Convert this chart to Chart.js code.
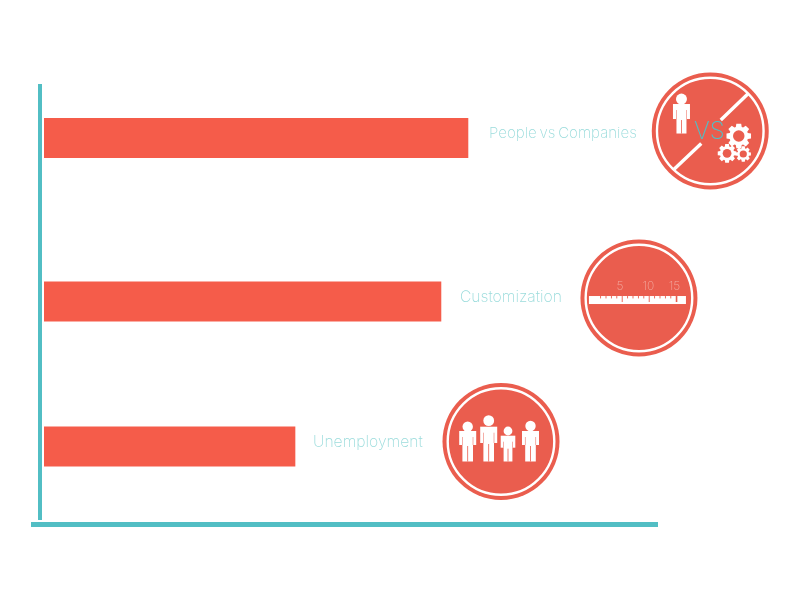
<!DOCTYPE html>
<html><head><meta charset="utf-8">
<style>html,body{margin:0;padding:0;background:#fff}canvas{display:block}</style>
<script src="https://cdn.jsdelivr.net/npm/chart.js@4/dist/chart.umd.js"></script>
</head><body><canvas id="c" width="800" height="600"></canvas>
<script>
const categories = ['People vs Companies', 'Customization', 'Unemployment'];
const scores = [69.05, 64.65, 40.88];
const rulerLabels = ['5', '10', '15'];
const versusLabel = 'VS';

const BAR = '#f55c4a', DISC = '#ea5d4e', AXIS = '#52bec4', LABEL = '#9bdcdc';
const FONT = 'Inter';

class SpacedCategory extends Chart.CategoryScale {
  static id = 'spacedCategory';
  static defaults = Chart.CategoryScale.defaults;
  getPixelForValue(v) {
    const i = typeof v === 'number' ? v : this.parse(v);
    return this.getPixelForDecimal(this.options.stops[i]);
  }
}
Chart.register(SpacedCategory);

function disc(ctx, x, y) {
  ctx.fillStyle = DISC;
  ctx.beginPath(); ctx.arc(x, y, 58.5, 0, 7); ctx.fill();
  ctx.strokeStyle = '#fff'; ctx.lineWidth = 2.4;
  ctx.beginPath(); ctx.arc(x, y, 53.3, 0, 7); ctx.stroke();
}
function person(ctx, cx, headY, headR, shoulder, armBottom, feet, halfW, legHalf) {
  ctx.fillStyle = '#fff';
  ctx.beginPath(); ctx.arc(cx, headY, headR, 0, 7); ctx.fill();
  const hip = armBottom - 1;
  ctx.fillRect(cx - halfW, shoulder, 2 * halfW, armBottom - shoulder);
  ctx.fillRect(cx - legHalf, hip, 2 * legHalf, feet - hip);
  ctx.fillStyle = DISC;
  ctx.fillRect(cx - 0.4, hip + 2, 0.8, feet - hip - 2);
  ctx.fillRect(cx - legHalf - 0.25, shoulder + 6, 0.5, armBottom - shoulder - 6);
  ctx.fillRect(cx + legHalf - 0.25, shoulder + 6, 0.5, armBottom - shoulder - 6);
}
function gear(ctx, x, y, r, teeth) {
  ctx.fillStyle = '#fff';
  ctx.beginPath();
  for (let i = 0; i < teeth; i++) {
    const a = i / teeth * Math.PI * 2, w = Math.PI / teeth * 0.5;
    [[r * 0.76, -w * 1.6], [r, -w], [r, w], [r * 0.76, w * 1.6]].forEach(([rr, d], k) => {
      const px = x + rr * Math.cos(a + d), py = y + rr * Math.sin(a + d);
      (i === 0 && k === 0) ? ctx.moveTo(px, py) : ctx.lineTo(px, py);
    });
  }
  ctx.closePath(); ctx.fill();
  ctx.fillStyle = DISC;
  ctx.beginPath(); ctx.arc(x, y, r * 0.46, 0, 7); ctx.fill();
}
function iconVersus(ctx, x, y) {
  disc(ctx, x, y);
  ctx.strokeStyle = '#fff'; ctx.lineWidth = 3.4;
  ctx.beginPath();
  ctx.moveTo(x - 37, y + 39); ctx.lineTo(x - 9, y + 12.5);
  ctx.moveTo(x + 10.5, y - 11); ctx.lineTo(x + 37.5, y - 37);
  ctx.stroke();
  person(ctx, x - 28.8, y - 32, 5.5, y - 27, y - 12, y + 2.5, 8.5, 5);
  gear(ctx, x + 28.5, y + 5, 12.5, 8);
  gear(ctx, x + 16.8, y + 22.3, 9.5, 8);
  gear(ctx, x + 33, y + 23, 7.8, 8);
  ctx.fillStyle = AXIS; ctx.font = '200 24px ' + FONT;
  ctx.textAlign = 'center'; ctx.textBaseline = 'middle';
  ctx.fillText(versusLabel, x - 1, y + 1);
}
function iconRuler(ctx, x, y) {
  disc(ctx, x, y);
  const left = x - 50, top = y - 2;
  ctx.fillStyle = '#fff'; ctx.fillRect(left, top, 97, 8);
  ctx.fillStyle = DISC;
  for (let i = 0; i < 15; i++) {
    const px = left + 8 + i * 5.4, major = (i + 1) % 5 === 0 && i > 2;
    ctx.fillRect(px + 3.2, top, i === 14 ? 1.6 : 0.9, major ? 6 : 2.4);
  }
  ctx.fillStyle = '#f3a99f'; ctx.font = '200 12px ' + FONT;
  ctx.textAlign = 'center'; ctx.textBaseline = 'middle';
  [-19, 9.5, 35.5].forEach((dx, i) => ctx.fillText(rulerLabels[i], x + dx, y - 12));
}
function iconPeople(ctx, x, y) {
  disc(ctx, x, y);
  person(ctx, x - 33.3, y - 14.8, 5.2, y - 10.5, y + 3.5, y + 20, 8.5, 5.3);
  person(ctx, x - 12.3, y - 20.8, 5.4, y - 14.8, y + 1.5, y + 20, 8.5, 5.3);
  person(ctx, x + 7, y - 10.5, 4.4, y - 5.8, y + 6.2, y + 20, 7.3, 4.4);
  person(ctx, x + 29.5, y - 15.5, 5.2, y - 10.5, y + 3.5, y + 20, 8.5, 5.3);
}

const labelGap = [21, 19, 18];
const labelShift = [-5, -4.5, -4.5];
const labelSize = [15.1, 15.7, 15.7];
const iconGap = [242.3, 198, 206];
const iconShift = [-7, -3.5, -5];
const icons = [iconVersus, iconRuler, iconPeople];

const furniture = {
  id: 'furniture',
  beforeDatasetsDraw(chart) {
    const { ctx, chartArea: a } = chart;
    ctx.save();
    ctx.fillStyle = AXIS;
    ctx.fillRect(a.left - 6, a.top, 4, a.bottom - a.top);
    ctx.fillRect(a.left - 13, a.bottom + 2, a.right - a.left + 13, 5);
    ctx.restore();
  },
  afterDatasetsDraw(chart) {
    const { ctx, scales: { x, y } } = chart;
    ctx.save();
    categories.forEach((name, i) => {
      const end = x.getPixelForValue(scores[i]), mid = y.getPixelForValue(i);
      ctx.fillStyle = LABEL; ctx.font = '200 ' + labelSize[i] + 'px ' + FONT;
      ctx.wordSpacing = '-1.5px';
      ctx.textAlign = 'left'; ctx.textBaseline = 'middle';
      ctx.fillText(name, end + labelGap[i], mid + labelShift[i]);
      ctx.wordSpacing = '0px';
      icons[i](ctx, end + iconGap[i], mid + iconShift[i]);
    });
    ctx.restore();
  }
};

new Chart(document.getElementById('c'), {
  type: 'bar',
  data: { labels: categories, datasets: [{ data: scores, backgroundColor: BAR, barThickness: 39.4, borderWidth: 0 }] },
  options: {
    indexAxis: 'y', responsive: false, animation: false,
    layout: { padding: { left: 44, right: 142, top: 84, bottom: 80 } },
    plugins: { legend: { display: false }, tooltip: { enabled: false }, title: { display: false } },
    scales: {
      x: { type: 'linear', min: 0, max: 100, display: false },
      y: { type: 'spacedCategory', display: false, stops: [0.1239, 0.4989, 0.8314] }
    }
  },
  plugins: [furniture]
});
</script></body></html>
